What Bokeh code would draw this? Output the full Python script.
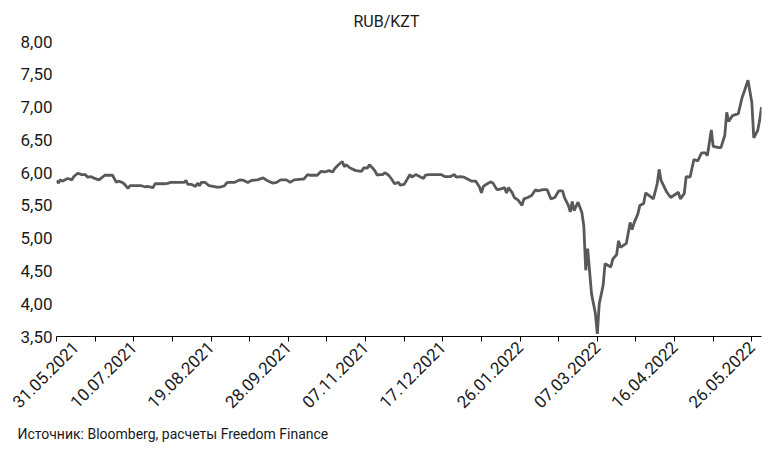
from math import pi
import pandas as pd
from bokeh.plotting import figure
from bokeh.models import ColumnDataSource, FixedTicker, Range1d, Title
from bokeh.embed import file_html
from bokeh.resources import INLINE

# ---- data ----
dates = [
    "2021-05-31", "2021-06-01", "2021-06-02", "2021-06-03", "2021-06-05", "2021-06-06",
    "2021-06-08", "2021-06-09", "2021-06-11", "2021-06-13", "2021-06-15", "2021-06-16",
    "2021-06-18", "2021-06-19", "2021-06-22", "2021-06-25", "2021-06-29", "2021-07-01",
    "2021-07-02", "2021-07-04", "2021-07-05", "2021-07-07", "2021-07-08", "2021-07-14",
    "2021-07-16", "2021-07-17", "2021-07-20", "2021-07-21", "2021-07-26", "2021-07-28",
    "2021-07-29", "2021-08-05", "2021-08-06", "2021-08-07", "2021-08-09", "2021-08-11",
    "2021-08-12", "2021-08-13", "2021-08-14", "2021-08-16", "2021-08-18", "2021-08-22",
    "2021-08-24", "2021-08-26", "2021-08-27", "2021-08-28", "2021-08-31", "2021-09-03",
    "2021-09-05", "2021-09-07", "2021-09-09", "2021-09-12", "2021-09-15", "2021-09-17",
    "2021-09-20", "2021-09-22", "2021-09-24", "2021-09-27", "2021-09-29", "2021-10-01",
    "2021-10-05", "2021-10-06", "2021-10-08", "2021-10-09", "2021-10-13", "2021-10-15",
    "2021-10-17", "2021-10-19", "2021-10-21", "2021-10-22", "2021-10-24", "2021-10-26",
    "2021-10-27", "2021-10-28", "2021-10-30", "2021-11-02", "2021-11-05", "2021-11-06",
    "2021-11-08", "2021-11-09", "2021-11-11", "2021-11-12", "2021-11-13", "2021-11-14",
    "2021-11-16", "2021-11-17", "2021-11-19", "2021-11-21", "2021-11-22", "2021-11-24",
    "2021-11-25", "2021-11-27", "2021-11-28", "2021-11-30", "2021-12-01", "2021-12-03",
    "2021-12-05", "2021-12-07", "2021-12-08", "2021-12-10", "2021-12-11", "2021-12-16",
    "2021-12-18", "2021-12-21", "2021-12-23", "2021-12-24", "2021-12-26", "2021-12-28",
    "2021-12-30", "2022-01-01", "2022-01-03", "2022-01-05", "2022-01-06", "2022-01-07",
    "2022-01-09", "2022-01-11", "2022-01-12", "2022-01-14", "2022-01-16", "2022-01-18",
    "2022-01-19", "2022-01-20", "2022-01-22", "2022-01-23", "2022-01-25", "2022-01-27",
    "2022-01-28", "2022-01-30", "2022-02-01", "2022-02-03", "2022-02-04", "2022-02-07",
    "2022-02-09", "2022-02-11", "2022-02-13", "2022-02-15", "2022-02-17", "2022-02-18",
    "2022-02-20", "2022-02-21", "2022-02-22", "2022-02-23", "2022-02-25", "2022-02-27",
    "2022-02-28", "2022-03-01", "2022-03-02", "2022-03-04", "2022-03-06", "2022-03-07",
    "2022-03-08", "2022-03-10", "2022-03-11", "2022-03-14", "2022-03-15", "2022-03-17",
    "2022-03-18", "2022-03-19", "2022-03-22", "2022-03-24", "2022-03-25", "2022-03-26",
    "2022-03-28", "2022-03-29", "2022-03-31", "2022-04-01", "2022-04-05", "2022-04-07",
    "2022-04-08", "2022-04-09", "2022-04-12", "2022-04-14", "2022-04-18", "2022-04-19",
    "2022-04-21", "2022-04-22", "2022-04-24", "2022-04-26", "2022-04-28", "2022-04-30",
    "2022-05-02", "2022-05-03", "2022-05-05", "2022-05-06", "2022-05-09", "2022-05-10",
    "2022-05-12", "2022-05-13", "2022-05-14", "2022-05-16", "2022-05-19", "2022-05-21",
    "2022-05-22", "2022-05-24", "2022-05-26", "2022-05-27", "2022-05-29", "2022-05-30",
    "2022-05-31",
]
rates = [
    5.88, 5.84, 5.89, 5.87, 5.90, 5.91,
    5.89, 5.94, 5.99, 5.97, 5.97, 5.93,
    5.94, 5.92, 5.89, 5.96, 5.96, 5.85,
    5.87, 5.85, 5.83, 5.76, 5.80, 5.80,
    5.78, 5.79, 5.77, 5.83, 5.83, 5.84,
    5.85, 5.85, 5.88, 5.82, 5.82, 5.79,
    5.84, 5.80, 5.85, 5.85, 5.80, 5.78,
    5.78, 5.80, 5.84, 5.85, 5.85, 5.89,
    5.88, 5.85, 5.88, 5.89, 5.92, 5.88,
    5.84, 5.85, 5.89, 5.89, 5.85, 5.89,
    5.90, 5.90, 5.97, 5.96, 5.96, 6.02,
    6.01, 6.03, 6.01, 6.06, 6.12, 6.17,
    6.09, 6.12, 6.07, 6.03, 6.02, 6.07,
    6.07, 6.12, 6.06, 6.02, 5.96, 5.97,
    5.97, 6.00, 5.96, 5.88, 5.83, 5.85,
    5.81, 5.82, 5.87, 5.97, 5.93, 5.97,
    5.94, 5.91, 5.96, 5.97, 5.97, 5.97,
    5.94, 5.94, 5.97, 5.93, 5.94, 5.93,
    5.90, 5.87, 5.87, 5.78, 5.69, 5.79,
    5.83, 5.86, 5.84, 5.74, 5.75, 5.77,
    5.69, 5.77, 5.69, 5.62, 5.58, 5.50,
    5.60, 5.62, 5.65, 5.74, 5.72, 5.74,
    5.74, 5.60, 5.62, 5.72, 5.72, 5.62,
    5.50, 5.40, 5.56, 5.42, 5.55, 5.39,
    5.19, 4.51, 4.84, 4.15, 3.85, 3.54,
    4.00, 4.28, 4.61, 4.56, 4.68, 4.75,
    4.96, 4.86, 4.92, 5.24, 5.13, 5.23,
    5.37, 5.50, 5.53, 5.69, 5.60, 5.83,
    6.05, 5.88, 5.70, 5.62, 5.70, 5.60,
    5.68, 5.94, 5.93, 6.20, 6.18, 6.30,
    6.30, 6.26, 6.65, 6.40, 6.38, 6.38,
    6.57, 6.92, 6.78, 6.87, 6.90, 7.15,
    7.23, 7.41, 7.07, 6.53, 6.64, 6.79,
    7.00,
]
x_tick_labels = ["31.05.2021", "10.07.2021", "19.08.2021", "28.09.2021", "07.11.2021",
                 "17.12.2021", "26.01.2022", "07.03.2022", "16.04.2022", "26.05.2022"]
y_ticks = [3.5, 4.0, 4.5, 5.0, 5.5, 6.0, 6.5, 7.0, 7.5, 8.0]
y_tick_labels = ["3,50", "4,00", "4,50", "5,00", "5,50", "6,00", "6,50", "7,00", "7,50", "8,00"]
title_text = "RUB/KZT"
source_text = "Источник: Bloomberg, расчеты Freedom Finance"

FONT = "Roboto"
TXT = "#1a1a1a"
DAY_MS = 86400000
FIRST_LABEL_SHIFT_DAYS = 10   # the first date label is pushed right to stay on the page

# ---- conversion to epoch milliseconds ----
x_ms = [float(v) for v in (pd.to_datetime(dates).asi8 // 10**6)]
tick_ms = [float(v) for v in (pd.to_datetime(x_tick_labels, format="%d.%m.%Y").asi8 // 10**6)]
mid_ms = [(a + b) / 2 for a, b in zip(tick_ms[:-1], tick_ms[1:])]
mark_ms = sorted(tick_ms + mid_ms)                       # all tick marks (every 20 days)
label_ms = [tick_ms[0] + FIRST_LABEL_SHIFT_DAYS * DAY_MS] + tick_ms[1:]   # label anchors

src = ColumnDataSource(data=dict(x=x_ms, y=rates))

p = figure(width=782, height=451, output_backend="svg", toolbar_location=None,
           x_range=Range1d(x_ms[0], x_ms[-1]), y_range=Range1d(y_ticks[0], y_ticks[-1]),
           min_border_left=56, min_border_right=21, min_border_top=41, min_border_bottom=115)
p.outline_line_color = None
p.grid.visible = False
p.background_fill_color = "white"
p.border_fill_color = "white"

p.line(x="x", y="y", source=src, line_color="#595959", line_width=2.8)

# x axis: labels on (invisible) major ticks, visible marks drawn as minor ticks
xa = p.xaxis[0]
xa.ticker = FixedTicker(ticks=label_ms, minor_ticks=mark_ms)
xa.major_label_overrides = {int(t): lab for t, lab in zip(label_ms, x_tick_labels)}
xa.major_label_orientation = pi / 4
xa.axis_line_color = "#000000"
xa.major_tick_line_color = None
xa.minor_tick_line_color = "#000000"
xa.major_tick_out = 5
xa.major_tick_in = 0
xa.minor_tick_out = 5
xa.minor_tick_in = 0
xa.major_label_standoff = 3
xa.major_label_text_font = FONT
xa.major_label_text_font_size = "17px"
xa.major_label_text_color = TXT

# y axis
ya = p.yaxis[0]
ya.ticker = FixedTicker(ticks=y_ticks)
ya.major_label_overrides = {t: lab for t, lab in zip(y_ticks, y_tick_labels)}
ya.axis_line_color = None
ya.major_tick_line_color = None
ya.minor_tick_line_color = None
ya.major_tick_out = 0
ya.major_tick_in = 0
ya.major_label_standoff = 4
ya.major_label_text_font = FONT
ya.major_label_text_font_size = "17px"
ya.major_label_text_color = TXT

# title
p.add_layout(Title(text=title_text, align="left", offset=297, standoff=18, vertical_align="top",
                   text_font=FONT, text_font_size="16px", text_font_style="normal",
                   text_color=TXT), "above")

# source note
p.add_layout(Title(text=source_text, align="left", offset=-39, standoff=14, text_font=FONT,
                   text_font_size="14px", text_font_style="normal", text_color=TXT), "below")

open("out.html", "w").write(file_html(p, INLINE))
